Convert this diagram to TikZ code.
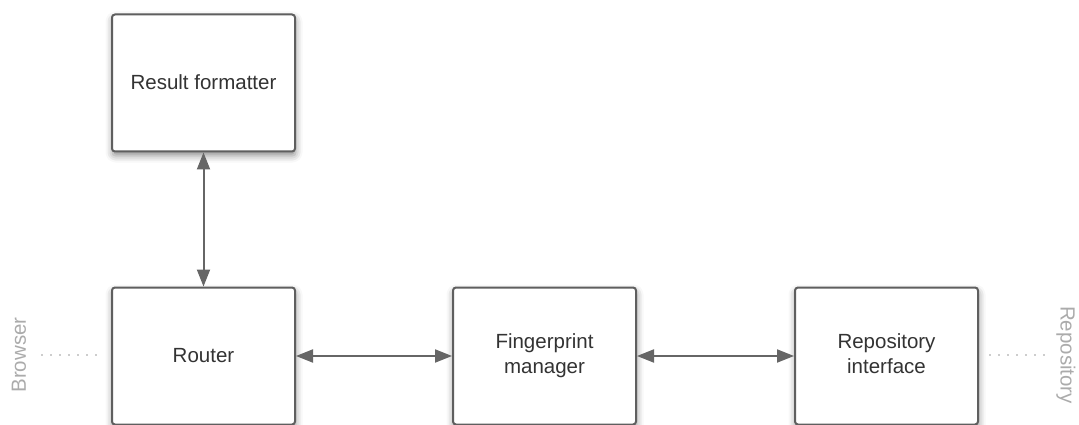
\documentclass[tikz,border=0pt]{standalone}
\usepackage{fontspec}
\setmainfont{Liberation Sans}
\usetikzlibrary{arrows.meta,shadows.blur}
\definecolor{boxline}{HTML}{5F5F5F}
\definecolor{txt}{HTML}{333333}
\definecolor{arrowc}{HTML}{666666}
\definecolor{sidelbl}{HTML}{ABABAB}
\definecolor{dots}{HTML}{9A9A9A}
\begin{document}
\begin{tikzpicture}[x=1pt,y=-1pt,
  block/.style={draw=boxline, line width=2pt, rounded corners=3pt, fill=white,
    minimum width=183pt, minimum height=137pt, align=center,
    text=txt, font=\fontsize{20.5}{25}\selectfont,
    blur shadow={shadow xshift=0.5pt, shadow yshift=-4pt, shadow blur radius=7pt, shadow opacity=45}},
  link/.style={draw=arrowc, line width=2pt,
    {Triangle[length=17pt,width=13pt]}-{Triangle[length=17pt,width=13pt]}},
  side/.style={text=sidelbl, font=\fontsize{20.5}{24}\selectfont},
  trail/.style={draw=dots, line width=1.8pt, line cap=round, dash pattern=on 0pt off 9pt}]
  \useasboundingbox (0,0) rectangle (1079,425);
  % main components
  \node[block] (fmt) at (203.5,83) {\raisebox{2pt}{Result formatter}};
  \node[block] (router) at (203.5,356) {\raisebox{2pt}{Router}};
  \node[block] (fp) at (544.5,356) {Fingerprint\\manager};
  \node[block] (repo) at (886.5,356) {\raisebox{2pt}{\begin{tabular}{@{}c@{}}Repository\\interface\end{tabular}}};
  % two-way links between components
  \draw[link] (fmt.south) -- (router.north);
  \draw[link] (router.east) -- (fp.west);
  \draw[link] (fp.east) -- (repo.west);
  % external endpoints
  \node[side, rotate=90] (browser) at (19,355) {Browser};
  \node[side, rotate=-90] (store) at (1066,355) {Repository};
  \coordinate (bL) at (42,355);
  \coordinate (bR) at (104,355);
  \coordinate (rL) at (990,355);
  \coordinate (rR) at (1052,355);
  \draw[trail] (bL) -- (bR);
  \draw[trail] (rL) -- (rR);
\end{tikzpicture}
\end{document}
